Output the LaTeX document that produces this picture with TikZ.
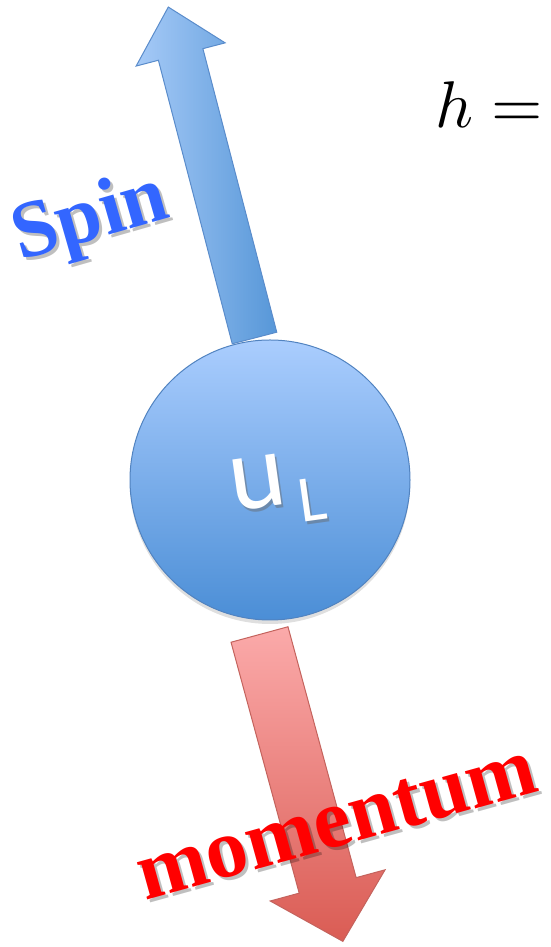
\documentclass[tikz,border=0pt]{standalone}
\usepackage{fontspec}
\newfontfamily\labelfont{Liberation Serif}
\newfontfamily\quarkfont{Carlito}
\usetikzlibrary{shadows}

\definecolor{spintext}{HTML}{3366FF}
\definecolor{spinedge}{HTML}{5A8CCB}
\definecolor{spinlight}{HTML}{A6CAF7}
\definecolor{spindark}{HTML}{5797D8}
\definecolor{momedge}{HTML}{C4635D}
\definecolor{momlight}{HTML}{FBAAAA}
\definecolor{momdark}{HTML}{DA5C54}
\definecolor{balltop}{HTML}{AACDFE}
\definecolor{ballbot}{HTML}{4B8ED6}
\definecolor{balledge}{HTML}{5183C0}

\begin{document}
\begin{tikzpicture}[
  x=1pt, y=1pt,
  every node/.style={inner sep=0pt},
  spinarrow/.style={draw=spinedge, line width=1pt, line join=miter,
    left color=spinlight, right color=spindark},
  momarrow/.style={draw=momedge, line width=1pt, line join=miter,
    top color=momlight, bottom color=momdark},
  particle/.style={circle, minimum size=280pt, draw=balledge, line width=1pt,
    top color=balltop, bottom color=ballbot,
    drop shadow={shadow xshift=0pt, shadow yshift=-4pt, opacity=0.25}},
  txtshadow/.style={text=black, opacity=0.25},
  bigword/.style={font=\labelfont\bfseries\fontsize{#1}{#1}\selectfont}
]

\useasboundingbox (0,0) rectangle (550,947);

% ---- MOMENTUM ARROW ----
\begin{scope}[shift={(259.5,312.5)}, rotate=15.2]
  \path[momarrow] (-29.5,0) -- (-29.5,-260) -- (-59.5,-260) -- (0,-318)
    -- (59.5,-260) -- (29.5,-260) -- (29.5,0) -- cycle;
\end{scope}

% ---- PARTICLE ----
\node[particle] (quark) at (270,467) {};
\node[text=black!60, opacity=0.45, rotate=8] (uLshade) at (280,454)
  {\quarkfont\fontsize{107}{107}\selectfont u\hspace{10pt}\raisebox{-20pt}{\fontsize{66}{66}\selectfont L}};
\node[text=white, rotate=8] (uL) at (278,457)
  {\quarkfont\fontsize{107}{107}\selectfont u\hspace{10pt}\raisebox{-20pt}{\fontsize{66}{66}\selectfont L}};

% ---- SPIN ARROW ----
\begin{scope}[shift={(254.5,609)}, rotate=14.6]
  \path[spinarrow] (-23,0) -- (-23,293) -- (-46,293) -- (0,342)
    -- (46,293) -- (23,293) -- (23,0) -- cycle;
\end{scope}

% ---- LABELS ----
\node[bigword=81, txtshadow, rotate=16] (spinshade) at (94,724) {Spin};
\node[bigword=81, text=spintext, rotate=16] (spin) at (91,727) {Spin};
\node[bigword=84, txtshadow, rotate=15.5] (momshade) at (340,121) {momentum};
\node[bigword=84, text=red, rotate=15.5] (momentum) at (337,124) {momentum};

% ---- HELICITY ----
\node[anchor=base west] (helicity) at (435,819)
  {\scalebox{6.6}{$h =$}};

\end{tikzpicture}
\end{document}
